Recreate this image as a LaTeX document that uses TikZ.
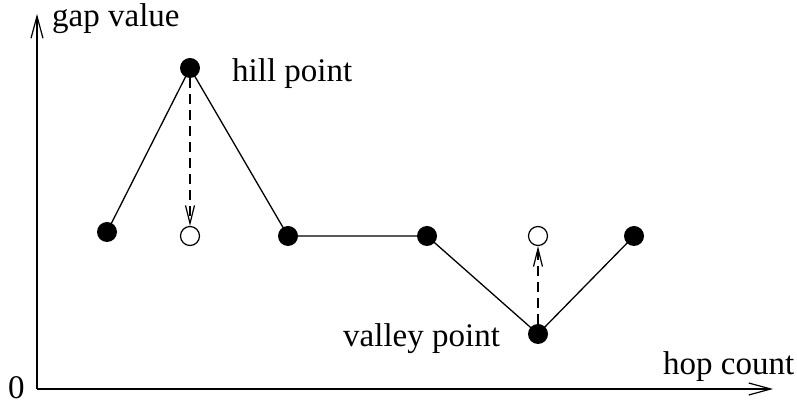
\documentclass[tikz,border=0pt]{standalone}
\usepackage{fontspec}
\setmainfont{Liberation Serif}
\usetikzlibrary{arrows.meta}
\begin{document}
\begin{tikzpicture}[x=1pt,y=1pt,
  full/.style={circle,fill=black,inner sep=0pt,minimum size=20pt},
  hollow/.style={circle,draw=black,fill=white,line width=1.2pt,inner sep=0pt,minimum size=19pt},
  lbl/.style={font=\fontsize{33}{40}\selectfont,inner sep=0pt,anchor=base west},
  axis/.style={line width=1.3pt,-{Straight Barb[length=22pt,width=12pt,line width=1.2pt]}},
  seg/.style={line width=1.3pt},
  drop/.style={line width=1.3pt,dash pattern=on 10pt off 6pt,-{Straight Barb[length=18pt,width=9pt,line width=1.2pt]}}]
\useasboundingbox (0,0) rectangle (797,406);
% axes
\coordinate (o) at (37,17);
\coordinate (ytop) at (37,392);
\coordinate (xend) at (773,17);
\draw[axis] (o) -- (ytop);
\draw[axis] (o) -- (xend);
% points
\node[full] (p1) at (107,174) {};
\node[full] (hill) at (190,338) {};
\node[hollow] (h2) at (190,170) {};
\node[full] (p3) at (288,170) {};
\node[full] (p4) at (427,170) {};
\node[full] (valley) at (538,72) {};
\node[hollow] (v2) at (538,170) {};
\node[full] (p6) at (634,170) {};
% connectors
\draw[seg] (p1.center) -- (hill.center) -- (p3.center) -- (p4.center) -- (valley.center) -- (p6.center);
\draw[drop] (hill) -- (h2);
\draw[drop] (valley) -- (v2);
% labels
\node[lbl] (gv) at (52,379) {gap value};
\node[lbl] (hp) at (232,324) {hill point};
\node[lbl] (vp) at (343,59) {valley point};
\node[lbl] (hc) at (663,31) {hop count};
\node[lbl] (zero) at (8,7) {0};
\end{tikzpicture}
\end{document}
